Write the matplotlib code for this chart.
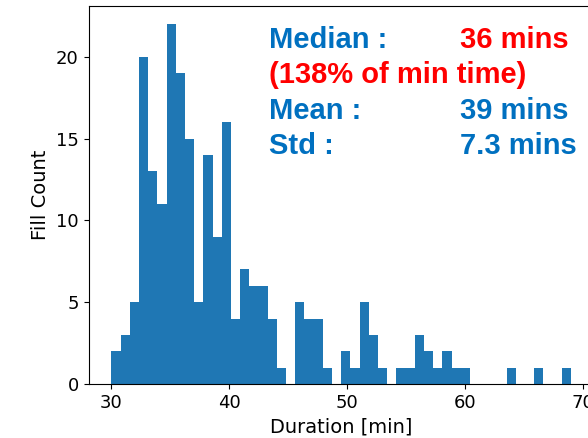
import numpy as np
import matplotlib
matplotlib.use("Agg")
import matplotlib.pyplot as plt

# Fill-duration histogram: 50 equal bins between 30 and 69 minutes
bin_start = 30.0
bin_stop = 69.0
n_bins = 50
fill_counts = [2, 3, 5, 20, 13, 11, 22, 19, 15, 5,
               14, 9, 16, 4, 7, 6, 6, 4, 1, 0,
               5, 4, 4, 1, 0, 2, 1, 5, 3, 1,
               0, 1, 1, 3, 2, 1, 2, 1, 1, 0,
               0, 0, 0, 1, 0, 0, 1, 0, 0, 1]

median_min = 36
median_pct_of_min = 138
mean_min = 39
std_min = 7.3

edges = np.linspace(bin_start, bin_stop, n_bins + 1)

fig = plt.figure(figsize=(5.88, 4.38), dpi=100)
ax = fig.add_axes([88.5 / 588, 54 / 438, (594 - 88.5) / 588, (432 - 54) / 438])

ax.hist(edges[:-1], bins=edges, weights=fill_counts, color="#1f77b4")

ax.set_xticks([30, 40, 50, 60, 70])
ax.set_yticks([0, 5, 10, 15, 20])
ax.tick_params(labelsize=13)
ax.set_xlabel("Duration [min]", fontsize=14)
ax.set_ylabel("Fill Count", fontsize=14)

blue = "#0070C0"
red = "#FF0000"
font = dict(family=["Liberation Sans", "DejaVu Sans"], fontsize=21,
            fontweight="bold", va="baseline", ha="left")
x_left = 269 / 588
x_right = 460 / 588


def fy(baseline_px):
    return (438 - baseline_px) / 438


fig.text(x_left, fy(47.7), "Median :", color=blue, **font)
fig.text(x_right, fy(47.7), f"{median_min} mins", color=red, **font)
fig.text(x_left, fy(83.3), f"({median_pct_of_min}% of min time)", color=red, **font)
fig.text(x_left, fy(119), "Mean :", color=blue, **font)
fig.text(x_right, fy(119), f"{mean_min} mins", color=blue, **font)
fig.text(x_left, fy(154.5), "Std :", color=blue, **font)
fig.text(x_right, fy(154.5), f"{std_min} mins", color=blue, **font)

fig.savefig("out.png", dpi=100)
